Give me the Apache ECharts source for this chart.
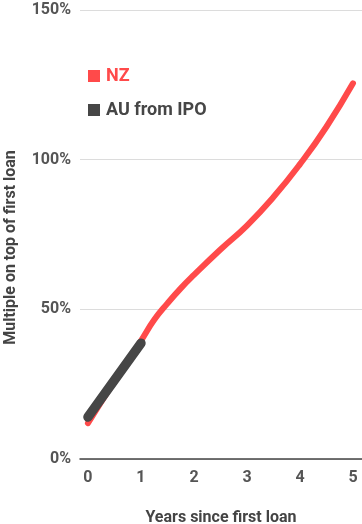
<!DOCTYPE html>
<html>
<head>
<meta charset="utf-8">
<script src="https://cdn.jsdelivr.net/npm/echarts@6/dist/echarts.min.js"></script>
<style>
  html, body { margin: 0; padding: 0; background: #ffffff; }
  #chart { width: 362px; height: 524px; }
</style>
</head>
<body>
<div id="chart"></div>
<script>
// Years since first loan (x) and cumulative multiple (%) on top of the first loan
const years = [0, 0.5, 1, 1.25, 1.5, 1.75, 2, 2.5, 3, 3.5, 4, 4.5, 5];
const nzValues = [12, 26, 39.5, 46.5, 52, 57, 61.5, 70, 78, 87.5, 98.5, 111, 125.5];
const auYears = [0, 1];
const auValues = [14, 38.7];
const xTicks = [0, 1, 2, 3, 4, 5];
const yTicks = [0, 50, 100, 150];

const NZ_COLOR = '#ff4a4a';
const AU_COLOR = '#464646';
const FONT = 'Roboto';

const chart = echarts.init(document.getElementById('chart'), null, { renderer: 'canvas' });

chart.setOption({
  backgroundColor: '#ffffff',
  animation: false,
  textStyle: { fontFamily: FONT },
  grid: { left: 80, right: 0, top: 10, bottom: 65, containLabel: false, outerBoundsMode: 'none' },
  legend: {
    orient: 'vertical',
    left: 83,
    top: 62,
    itemWidth: 12,
    itemHeight: 12,
    itemGap: 16,
    icon: 'rect',
    textStyle: { fontFamily: FONT, fontSize: 18, fontWeight: 'bold', padding: [0, 0, 0, 1] },
    data: [
      { name: 'NZ', textStyle: { color: NZ_COLOR } },
      { name: 'AU from IPO', textStyle: { color: AU_COLOR } }
    ]
  },
  xAxis: {
    type: 'value',
    min: -0.15,
    max: 5.17,
    name: 'Years since first loan',
    nameLocation: 'middle',
    nameGap: 51,
    nameTextStyle: { fontFamily: FONT, fontSize: 16, fontWeight: 'bold', color: '#444' },
    axisLine: { show: true, lineStyle: { color: '#444', width: 1.5 } },
    axisTick: { show: false, customValues: xTicks },
    splitLine: { show: false },
    axisLabel: {
      customValues: xTicks,
      margin: 11,
      fontFamily: FONT,
      fontSize: 16,
      fontWeight: 'bold',
      color: '#555'
    }
  },
  yAxis: {
    type: 'value',
    min: yTicks[0],
    max: yTicks[yTicks.length - 1],
    interval: 50,
    name: 'Multiple on top of first loan',
    nameLocation: 'middle',
    nameGap: 61,
    nameTextStyle: {
      fontFamily: FONT,
      fontSize: 16,
      fontWeight: 'bold',
      color: '#444',
      padding: [0, 26, 0, 0]
    },
    axisLine: { show: false },
    axisTick: { show: false },
    splitLine: { show: true, lineStyle: { color: '#dcdcdc', width: 1 } },
    axisLabel: {
      margin: 9,
      fontFamily: FONT,
      fontSize: 16,
      fontWeight: 'bold',
      color: '#555',
      formatter: v => v + '%'
    }
  },
  series: [
    {
      name: 'NZ',
      type: 'line',
      data: years.map((x, i) => [x, nzValues[i]]),
      smooth: 0.5,
      showSymbol: false,
      color: NZ_COLOR,
      lineStyle: { color: NZ_COLOR, width: 6, cap: 'round', join: 'round' },
      z: 2
    },
    {
      name: 'AU from IPO',
      type: 'line',
      data: auYears.map((x, i) => [x, auValues[i]]),
      showSymbol: false,
      color: AU_COLOR,
      lineStyle: { color: AU_COLOR, width: 9.5, cap: 'round', join: 'round' },
      z: 3
    }
  ]
});
</script>
</body>
</html>
